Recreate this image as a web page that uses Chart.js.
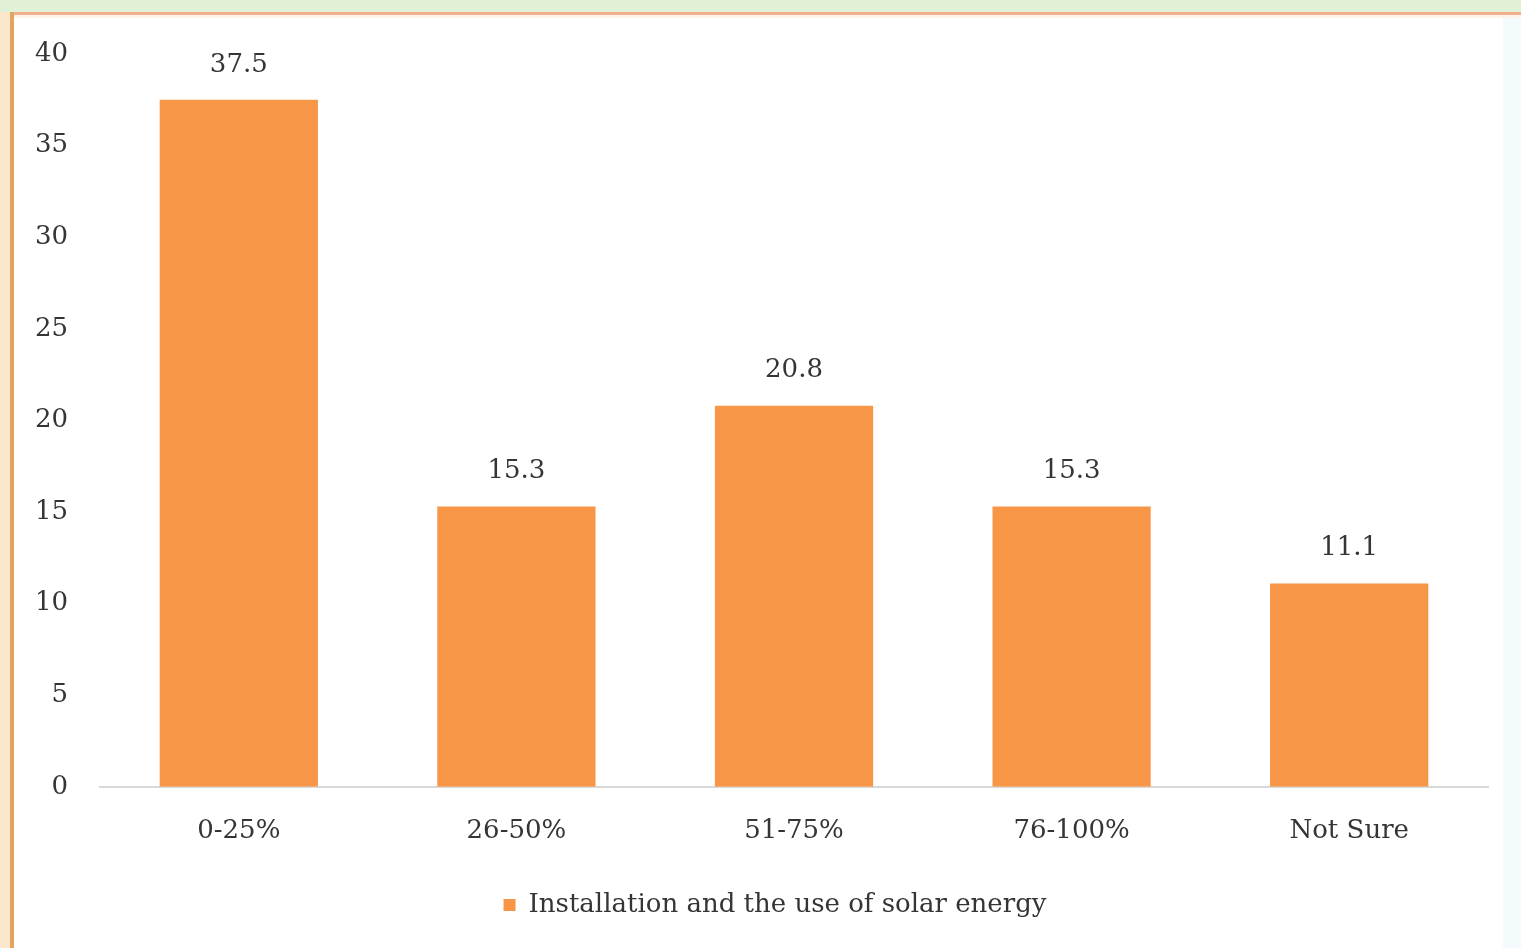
<!DOCTYPE html>
<html>
<head>
<meta charset="utf-8">
<script src="https://cdn.jsdelivr.net/npm/chart.js@4/dist/chart.umd.min.js"></script>
<style>
  html, body { margin: 0; padding: 0; background: #ffffff; }
  #wrap { position: relative; width: 1521px; height: 948px; overflow: hidden; }
  canvas { display: block; }
</style>
</head>
<body>
<div id="wrap"><canvas id="chart" width="1521" height="948"></canvas></div>
<script>
// Share of respondents by range, installation and use of solar energy
const categories = ['0-25%', '26-50%', '51-75%', '76-100%', 'Not Sure'];
const seriesName = 'Installation and the use of solar energy';
const seriesValues = [37.5, 15.3, 20.8, 15.3, 11.1];
const yTicks = [0, 5, 10, 15, 20, 25, 30, 35, 40];

const FONT = '"DejaVu Serif", "Liberation Serif", serif';
const TEXT = '#353535';
const BAR = '#f79646';

// Page frame: pale green strip on top, orange rules on top and left
const framePlugin = {
  id: 'frame',
  beforeDraw(chart) {
    const c = chart.ctx;
    c.save();
    c.fillStyle = '#ffffff';
    c.fillRect(0, 0, chart.width, chart.height);
    c.fillStyle = '#e0f1d6';
    c.fillRect(0, 0, chart.width, 12);
    c.fillStyle = '#f1b08e';
    c.fillRect(0, 12, chart.width, 3);
    c.fillStyle = '#fdf3e6';
    c.fillRect(0, 15, chart.width, 3);
    c.fillStyle = '#e4a45e';
    c.fillRect(10, 12, 4, chart.height - 12);
    c.fillStyle = '#fbe7cc';
    c.fillRect(0, 12, 10, chart.height - 12);
    c.fillStyle = '#f3fbfd';
    c.fillRect(1503, 18, 18, chart.height - 18);
    c.restore();
  }
};

// Centre the legend under the plot area rather than the whole canvas
const legendShift = {
  id: 'legendShift',
  afterLayout(chart) {
    if (chart.legend) chart.legend.left += 42;
  }
};

// Value labels above each bar
const valueLabels = {
  id: 'valueLabels',
  afterDatasetsDraw(chart) {
    const c = chart.ctx;
    c.save();
    c.font = '26px ' + FONT;
    c.fillStyle = TEXT;
    c.textAlign = 'center';
    c.textBaseline = 'middle';
    chart.getDatasetMeta(0).data.forEach((bar, i) => {
      c.fillText(String(seriesValues[i]), bar.x, bar.y - 35);
    });
    c.restore();
  }
};

new Chart(document.getElementById('chart'), {
  type: 'bar',
  data: {
    labels: categories,
    datasets: [{
      label: seriesName,
      data: seriesValues,
      backgroundColor: BAR,
      borderWidth: 0,
      categoryPercentage: 1,
      barPercentage: 0.57
    }]
  },
  plugins: [framePlugin, legendShift, valueLabels],
  options: {
    responsive: false,
    animation: false,
    layout: { padding: { left: 20, right: 33, top: 54, bottom: 20 } },
    plugins: {
      tooltip: { enabled: false },
      legend: {
        position: 'bottom',
        labels: {
          font: { family: FONT, size: 26 },
          color: TEXT,
          boxWidth: 12,
          boxHeight: 12,
          padding: 16
        }
      }
    },
    scales: {
      x: {
        grid: { display: false, drawTicks: false },
        border: { display: true, color: '#d9d9d9', width: 2 },
        ticks: { font: { family: FONT, size: 26 }, color: TEXT, padding: 29 }
      },
      y: {
        min: 0,
        max: 40,
        afterFit(scale) { scale.width = 80; },
        afterBuildTicks(scale) { scale.ticks = yTicks.map(v => ({ value: v })); },
        grid: { display: false, drawTicks: false },
        border: { display: false },
        ticks: { font: { family: FONT, size: 26 }, color: TEXT, padding: 32 }
      }
    }
  }
});
</script>
</body>
</html>
